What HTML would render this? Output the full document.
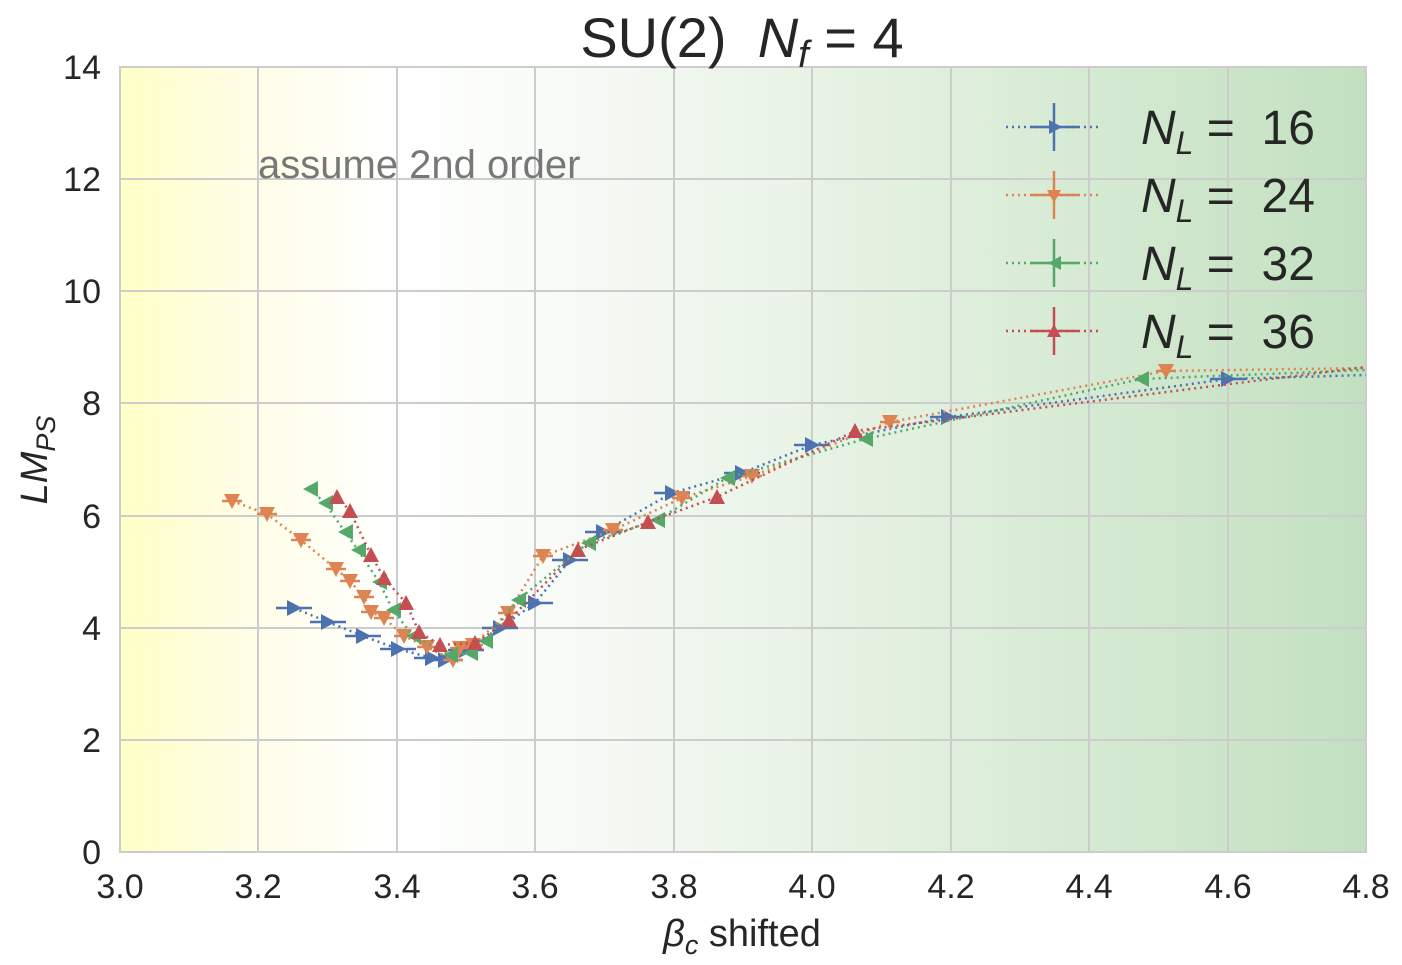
<!DOCTYPE html>
<html><head><meta charset="utf-8"><style>
body{margin:0;background:#fff;}
svg{display:block;font-family:"Liberation Sans",sans-serif;}
text{white-space:pre;}
</style></head><body>
<svg width="1402" height="965" viewBox="0 0 1402 965" xmlns="http://www.w3.org/2000/svg">
<defs>
<linearGradient id="bg" x1="0" x2="1" y1="0" y2="0">
<stop offset="0" stop-color="#ffffc6"/>
<stop offset="0.1" stop-color="#fffee6"/>
<stop offset="0.22" stop-color="#ffffff"/>
<stop offset="0.33" stop-color="#f9fcf8"/>
<stop offset="0.66" stop-color="#e0efdd"/>
<stop offset="1" stop-color="#c2e0c0"/>
</linearGradient>
<marker id="mb" markerUnits="userSpaceOnUse" markerWidth="44" markerHeight="24" refX="22" refY="12" orient="0" overflow="visible">
<line x1="4" y1="12" x2="40" y2="12" stroke="#4c72b0" stroke-width="2.5"/>
<polygon points="15,4 30,12 15,20" fill="#4c72b0"/></marker>
<marker id="mo" markerUnits="userSpaceOnUse" markerWidth="24" markerHeight="24" refX="12" refY="12" orient="0" overflow="visible">
<line x1="2" y1="12" x2="22" y2="12" stroke="#dd8452" stroke-width="2.5"/>
<polygon points="4,5 20,5 12,20" fill="#dd8452"/></marker>
<marker id="mg" markerUnits="userSpaceOnUse" markerWidth="24" markerHeight="24" refX="12" refY="12" orient="0" overflow="visible">
<polygon points="20,4 5,12 20,20" fill="#55a868"/></marker>
<marker id="mr" markerUnits="userSpaceOnUse" markerWidth="24" markerHeight="24" refX="12" refY="12" orient="0" overflow="visible">
<polygon points="4,19 20,19 12,4" fill="#c44e52"/></marker>
</defs>
<rect x="120" y="67" width="1246" height="785" fill="url(#bg)"/>
<g stroke="#cccccc" stroke-width="2">
<line x1="258" y1="67" x2="258" y2="852"/><line x1="397" y1="67" x2="397" y2="852"/>
<line x1="535" y1="67" x2="535" y2="852"/><line x1="674" y1="67" x2="674" y2="852"/>
<line x1="812" y1="67" x2="812" y2="852"/><line x1="951" y1="67" x2="951" y2="852"/>
<line x1="1089" y1="67" x2="1089" y2="852"/><line x1="1228" y1="67" x2="1228" y2="852"/>
<line x1="120" y1="740" x2="1366" y2="740"/><line x1="120" y1="628" x2="1366" y2="628"/>
<line x1="120" y1="516" x2="1366" y2="516"/><line x1="120" y1="403" x2="1366" y2="403"/>
<line x1="120" y1="291" x2="1366" y2="291"/><line x1="120" y1="179" x2="1366" y2="179"/>
<rect x="120" y="67" width="1246" height="785" fill="none"/>
</g>
<text x="258" y="178" font-size="40" fill="#777">assume 2nd order</text>
<g fill="none" stroke-width="2.5" stroke-dasharray="2,4">
<polyline stroke="#4c72b0" marker-start="url(#mb)" marker-mid="url(#mb)" points="294,608 328,622 363,636 398,649 432,658 445,660 466,650 500,628 535,603 570,560 603,532 672,493 742,473 812,445 948,417 1228,379 1366,375"/>
<polyline stroke="#dd8452" marker-start="url(#mo)" marker-mid="url(#mo)" points="232,501 267,514 301,540 336,569 350,581 364,597 371,612 384,618 404,636 427,647 453,660 460,648 473,645 508,613 543,556 613,530 682,498 752,476 890,422 1166,371 1366,368"/>
<polyline stroke="#55a868" marker-start="url(#mg)" marker-mid="url(#mg)" points="310,489 325,503 345,532 358,550 379,582 393,610 413,636 450,655 470,653 485,641 518,600 588,543 657,520 727,478 865,439 1141,379 1366,370"/>
<polyline stroke="#c44e52" marker-start="url(#mr)" marker-mid="url(#mr)" points="337,497 350,511 371,555 384,578 406,603 419,632 440,645 475,643 509,620 578,550 648,522 717,497 855,431 1366,367"/>
</g>
<g font-size="34" fill="#262626" text-anchor="end">
<text x="101" y="864">0</text><text x="101" y="752">2</text><text x="101" y="640">4</text>
<text x="101" y="528">6</text><text x="101" y="415">8</text><text x="101" y="303">10</text>
<text x="101" y="191">12</text><text x="101" y="79">14</text>
</g>
<g font-size="34" fill="#262626" text-anchor="middle">
<text x="120" y="898">3.0</text><text x="258" y="898">3.2</text><text x="397" y="898">3.4</text>
<text x="535" y="898">3.6</text><text x="674" y="898">3.8</text><text x="812" y="898">4.0</text>
<text x="951" y="898">4.2</text><text x="1089" y="898">4.4</text><text x="1228" y="898">4.6</text>
<text x="1366" y="898">4.8</text>
<text x="742" y="946" font-size="38"><tspan font-style="italic">β</tspan><tspan font-size="27" font-style="italic" dy="8">c</tspan><tspan dy="-8"> shifted</tspan></text>
</g>
<text transform="translate(47,460) rotate(-90)" font-size="38" fill="#262626" text-anchor="middle" font-style="italic">LM<tspan font-size="27" dy="8">PS</tspan></text>
<text x="742" y="57" font-size="56" fill="#262626" text-anchor="middle">SU(2)  <tspan font-style="italic">N</tspan><tspan font-style="italic" font-size="38" dy="10">f</tspan><tspan dy="-10"> = 4</tspan></text>
<g stroke-width="2.5">
<g stroke="#4c72b0"><line x1="1006" y1="127" x2="1102" y2="127" stroke-dasharray="2,4"/><line x1="1030" y1="127" x2="1078" y2="127"/><line x1="1054" y1="103" x2="1054" y2="151"/><polygon points="1049,120 1062,127 1049,134" fill="#4c72b0" stroke="none"/></g>
<g stroke="#dd8452"><line x1="1006" y1="195" x2="1102" y2="195" stroke-dasharray="2,4"/><line x1="1030" y1="195" x2="1078" y2="195"/><line x1="1054" y1="171" x2="1054" y2="219"/><polygon points="1047,190 1061,190 1054,203" fill="#dd8452" stroke="none"/></g>
<g stroke="#55a868"><line x1="1006" y1="263" x2="1102" y2="263" stroke-dasharray="2,4"/><line x1="1030" y1="263" x2="1078" y2="263"/><line x1="1054" y1="239" x2="1054" y2="287"/><polygon points="1061,256 1048,263 1061,270" fill="#55a868" stroke="none"/></g>
<g stroke="#c44e52"><line x1="1006" y1="331" x2="1102" y2="331" stroke-dasharray="2,4"/><line x1="1030" y1="331" x2="1078" y2="331"/><line x1="1054" y1="307" x2="1054" y2="355"/><polygon points="1047,337 1061,337 1054,324" fill="#c44e52" stroke="none"/></g>
</g>
<g font-size="48" fill="#262626">
<text x="1141" y="144"><tspan font-style="italic">N</tspan><tspan font-style="italic" font-size="32" dy="10">L</tspan><tspan dy="-10"> =  16</tspan></text>
<text x="1141" y="212"><tspan font-style="italic">N</tspan><tspan font-style="italic" font-size="32" dy="10">L</tspan><tspan dy="-10"> =  24</tspan></text>
<text x="1141" y="280"><tspan font-style="italic">N</tspan><tspan font-style="italic" font-size="32" dy="10">L</tspan><tspan dy="-10"> =  32</tspan></text>
<text x="1141" y="348"><tspan font-style="italic">N</tspan><tspan font-style="italic" font-size="32" dy="10">L</tspan><tspan dy="-10"> =  36</tspan></text>
</g>
</svg>
</body></html>
